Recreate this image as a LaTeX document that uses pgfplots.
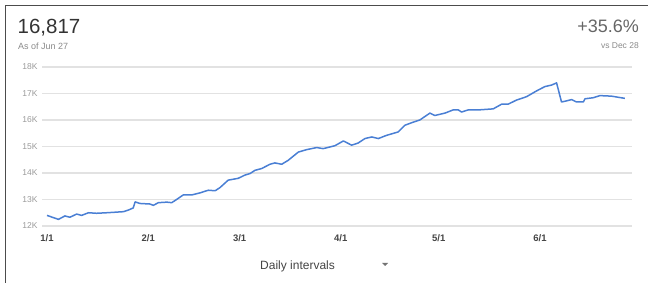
\documentclass[border=0pt]{standalone}
\usepackage{pgfplots}
\pgfplotsset{compat=1.18}
\usepackage{fontspec}
\setmainfont{Liberation Sans}
\definecolor{linecol}{HTML}{4A7FD4}
\definecolor{gridcol}{HTML}{E2E2E2}
\definecolor{ylab}{HTML}{9A9A9A}
\definecolor{xlab}{HTML}{444444}
\definecolor{big}{HTML}{333333}
\definecolor{sub}{HTML}{8A8A8A}
\begin{document}
\begin{tikzpicture}[x=1pt,y=1pt]
\path[use as bounding box] (0,0) rectangle (648,283);
\draw[line width=1.2pt, color=black!70] (5.5,0) -- (5.5,277.5) -- (648,277.5);
\node[anchor=base west, inner sep=0pt, font=\fontsize{20.5}{24}\selectfont, text=big] at (17.5,249) {16,817};
\node[anchor=base west, inner sep=0pt, font=\fontsize{9}{11}\selectfont, text=sub] at (18,233) {As of Jun 27};
\node[anchor=base east, inner sep=0pt, font=\fontsize{18}{22}\selectfont, text=black!60] at (639,250) {+35.6\%};
\node[anchor=base east, inner sep=0pt, font=\fontsize{8.5}{10}\selectfont, text=sub] at (639,234) {vs Dec 28};
\node[anchor=base west, inner sep=0pt, font=\fontsize{12}{14}\selectfont, text=xlab] at (260,13) {Daily intervals};
\fill[black!55] (382,20) -- (388,20) -- (385,17) -- cycle;
\begin{axis}[
  at={(42pt,57pt)}, anchor=south west,
  scale only axis, width=590pt, height=159pt,
  xmin=-1.53, xmax=179.2, ymin=12, ymax=18,
  axis line style={draw=none}, tick style={draw=none},
  ymajorgrids, grid style={gridcol, line width=1.2pt},
  ytick={12,13,14,15,16,17,18},
  yticklabels={12K,13K,14K,15K,16K,17K,18K},
  xtick={0,31,59,90,120,151},
  xticklabels={1/1,2/1,3/1,4/1,5/1,6/1},
  yticklabel style={font=\fontsize{8.5}{9}\selectfont, text=ylab, xshift=-1pt},
  xticklabel style={font=\fontsize{9.5}{10}\selectfont\bfseries, text=xlab, yshift=-5pt},
  clip=false,
]
\addplot[linecol, line width=1.5pt, line join=round] coordinates {
(0,12.40) (3.5,12.25) (5.5,12.38) (7,12.33) (9.1,12.45) (10.6,12.40) (12.7,12.50) (15.2,12.48) (18.3,12.50) (23.4,12.54) (24.9,12.60) (26.4,12.68) (27,12.91) (28.5,12.85) (31.5,12.83) (32.6,12.78) (34.1,12.88) (36.7,12.90) (38.2,12.88) (39.7,13.00) (41.7,13.17) (44.3,13.17) (46.9,13.25) (49.4,13.35) (51.5,13.33) (53,13.45) (55.5,13.73) (58.6,13.80) (60.6,13.92) (62.2,13.98) (63.7,14.10) (65.8,14.17) (68.3,14.33) (69.8,14.38) (71.9,14.33) (73.9,14.48) (77,14.79) (79.5,14.88) (82.6,14.96) (84.6,14.92) (88.2,15.03) (90.8,15.21) (93.3,15.05) (95.3,15.13) (97.4,15.30) (99.5,15.36) (101.5,15.30) (104,15.42) (107.6,15.55) (109.6,15.80) (112.2,15.92) (114.2,16.00) (117.3,16.26) (118.8,16.17) (121.9,16.26) (124.4,16.38) (126,16.38) (127,16.30) (129,16.38) (132.1,16.38) (136.7,16.42) (139.3,16.60) (141.3,16.60) (143.8,16.75) (146.9,16.88) (150,17.10) (152.5,17.26) (154.6,17.32) (156.1,17.40) (157.6,16.68) (159.1,16.72) (160.7,16.77) (162.2,16.68) (164.3,16.68) (164.8,16.80) (167.3,16.84) (169.4,16.92) (172.9,16.90) (177,16.817)
};
\end{axis}
\end{tikzpicture}
\end{document}
